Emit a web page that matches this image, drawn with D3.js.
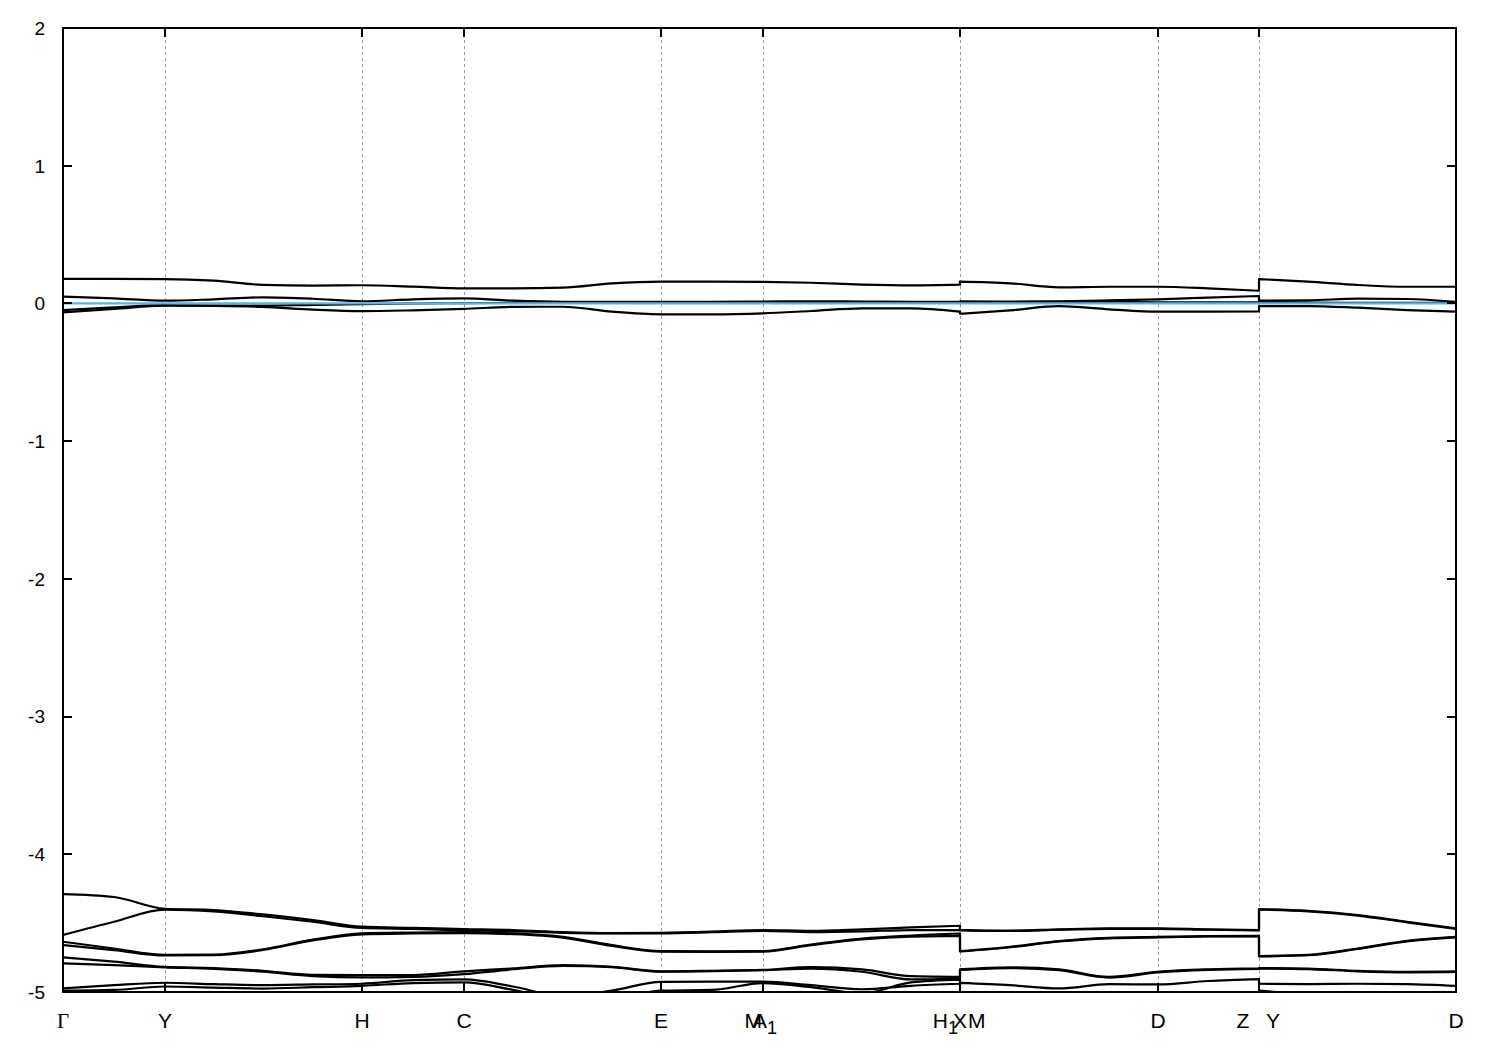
<!DOCTYPE html>
<html><head><meta charset="utf-8">
<script src="https://cdn.jsdelivr.net/npm/d3@7"></script>
<style>body{margin:0;background:#fff}svg{display:block}</style>
</head><body><svg id="chart" width="1500" height="1050"></svg>
<script>
// ---- data ----
const tickK = [0, 0.102, 0.299, 0.401, 0.598, 0.700, 0.897, 1.095, 1.196, 1.393];
const yTicks = [-5, -4, -3, -2, -1, 0, 1, 2];
const kPiece1 = [0, 0.051, 0.102, 0.151, 0.200, 0.250, 0.299, 0.350, 0.401, 0.450, 0.500, 0.549, 0.598, 0.649, 0.700, 0.748, 0.799, 0.848, 0.897];
const kPiece2 = [0.897, 0.947, 0.996, 1.046, 1.095, 1.145, 1.196];
const kPiece3 = [1.196, 1.245, 1.295, 1.344, 1.393];

const bandA = [0.178,0.178,0.177,0.165,0.135,0.130,0.132,0.122,0.110,0.110,0.115,0.145,0.158,0.158,0.156,0.150,0.137,0.131,0.136,
               0.158,0.146,0.117,0.121,0.121,0.110,0.092,
               0.177,0.158,0.134,0.121,0.121];
const bandB = [0.049,0.037,0.020,0.030,0.044,0.034,0.015,0.030,0.037,0.020,0.012,0.012,0.012,0.012,0.014,0.016,0.014,0.012,0.012,
               0.015,0.013,0.015,0.022,0.030,0.042,0.054,
               0.020,0.022,0.035,0.032,0.012];
const bandC = [-0.048,-0.028,-0.012,-0.015,-0.016,-0.010,-0.005,0.000,0.002,0.004,0.006,0.008,0.008,0.008,0.008,0.008,0.006,0.005,0.004,
               0.008,0.010,0.012,0.010,0.008,0.008,0.008,
               0.008,0.006,0.004,0.004,0.004];
const bandD = [-0.065,-0.040,-0.016,-0.018,-0.025,-0.045,-0.056,-0.050,-0.040,-0.025,-0.024,-0.060,-0.079,-0.079,-0.072,-0.055,-0.036,-0.036,-0.060,
               -0.075,-0.050,-0.020,-0.043,-0.060,-0.060,-0.058,
               -0.019,-0.019,-0.031,-0.048,-0.060];
const bandP1 = [-4.289,-4.310,-4.396,-4.405,-4.437,-4.478,-4.526,-4.534,-4.543,-4.550,-4.565,-4.572,-4.570,-4.562,-4.550,-4.556,-4.545,-4.531,-4.519,
                -4.548,-4.555,-4.545,-4.538,-4.538,-4.545,-4.550,
                -4.398,-4.410,-4.441,-4.490,-4.538];
const bandP2 = [-4.586,-4.490,-4.402,-4.415,-4.450,-4.490,-4.535,-4.542,-4.552,-4.558,-4.570,-4.575,-4.574,-4.566,-4.556,-4.565,-4.560,-4.550,-4.550,
                -4.552,-4.557,-4.548,-4.541,-4.541,-4.548,-4.553,
                -4.401,-4.414,-4.445,-4.494,-4.541];
const bandP3 = [-4.635,-4.684,-4.730,-4.728,-4.690,-4.620,-4.574,-4.568,-4.565,-4.575,-4.600,-4.660,-4.703,-4.705,-4.703,-4.655,-4.612,-4.590,-4.575,
                -4.703,-4.672,-4.630,-4.607,-4.600,-4.594,-4.592,
                -4.739,-4.730,-4.684,-4.629,-4.600];
const bandP4 = [-4.659,-4.696,-4.735,-4.733,-4.695,-4.625,-4.581,-4.575,-4.572,-4.580,-4.605,-4.665,-4.707,-4.708,-4.707,-4.660,-4.618,-4.598,-4.593,
                -4.706,-4.675,-4.633,-4.610,-4.603,-4.597,-4.595,
                -4.742,-4.733,-4.687,-4.632,-4.603];
const bandP5 = [-4.749,-4.780,-4.818,-4.826,-4.846,-4.875,-4.877,-4.877,-4.850,-4.829,-4.805,-4.817,-4.850,-4.846,-4.840,-4.820,-4.836,-4.885,-4.890,
                -4.836,-4.821,-4.836,-4.890,-4.853,-4.836,-4.829,
                -4.826,-4.830,-4.846,-4.853,-4.850];
const bandP6 = [-4.792,-4.805,-4.821,-4.832,-4.853,-4.885,-4.894,-4.890,-4.870,-4.835,-4.810,-4.820,-4.853,-4.848,-4.842,-4.830,-4.853,-4.909,-4.900,
                -4.840,-4.826,-4.842,-4.895,-4.858,-4.840,-4.833,
                -4.829,-4.834,-4.850,-4.857,-4.854];
const bandP7 = [-4.974,-4.950,-4.933,-4.943,-4.950,-4.945,-4.940,-4.914,-4.909,-4.960,-5.030,-4.990,-4.926,-4.925,-4.925,-4.950,-4.980,-4.955,-4.940,
                -4.933,-4.950,-4.974,-4.943,-4.945,-4.920,-4.906,
                -4.940,-4.943,-4.940,-4.943,-4.956];
const bandP8 = [-4.990,-4.985,-4.960,-4.968,-4.975,-4.965,-4.955,-4.935,-4.930,-4.985,-5.060,-5.050,-4.990,-4.985,-4.935,-4.965,-5.010,-4.930,-4.910,
                -5.020,-5.050,-5.080,-5.080,-5.050,-5.030,-5.020,
                -4.990,-5.020,-5.060,-5.060,-5.060];
const bands = [bandA, bandB, bandC, bandD, bandP1, bandP2, bandP3, bandP4, bandP5, bandP6, bandP7, bandP8];
const fermiLevel = 0;

// ---- drawing ----
const svg = d3.select('#chart');
const W = 1500, H = 1050;
const m = {left: 63, right: 44, top: 28, bottom: 58};
const x = d3.scaleLinear().domain([0, 1.393]).range([m.left, W - m.right]);
const y = d3.scaleLinear().domain([-5, 2]).range([H - m.bottom, m.top]);

svg.append('rect').attr('width', W).attr('height', H).attr('fill', '#fff');

svg.append('defs').append('clipPath').attr('id', 'clip')
  .append('rect').attr('x', x(0)).attr('y', y(2)).attr('width', x(1.393) - x(0)).attr('height', y(-5) - y(2));

// vertical dotted grid lines at interior ticks
svg.append('g').selectAll('line').data(tickK.slice(1, -1)).join('line')
  .attr('x1', d => x(d)).attr('x2', d => x(d)).attr('y1', y(2)).attr('y2', y(-5))
  .attr('stroke', '#9a9a9a').attr('stroke-width', 1).attr('stroke-dasharray', '3,3')
  .attr('shape-rendering', 'crispEdges');

// bands
const line = d3.line().x(d => x(d[0])).y(d => y(d[1])).curve(d3.curveMonotoneX);
const n1 = kPiece1.length, n2 = kPiece2.length;
const gB = svg.append('g').attr('clip-path', 'url(#clip)');
bands.forEach(b => {
  const p1 = kPiece1.map((k, i) => [k, b[i]]);
  const p2 = kPiece2.map((k, i) => [k, b[n1 + i]]);
  const p3 = kPiece3.map((k, i) => [k, b[n1 + n2 + i]]);
  const d = line(p1) + line(p2).replace(/^M/, 'L') + line(p3).replace(/^M/, 'L');
  gB.append('path').attr('d', d).attr('fill', 'none').attr('stroke', '#000')
    .attr('stroke-width', 2.2).attr('stroke-linejoin', 'round');
});

// Fermi level
gB.append('line').attr('x1', x(0)).attr('x2', x(1.393)).attr('y1', y(fermiLevel)).attr('y2', y(fermiLevel))
  .attr('stroke', '#56b4e9').attr('stroke-width', 2.2);

// ticks
const tl = 9;
const gT = svg.append('g').attr('stroke', '#000').attr('stroke-width', 2).attr('shape-rendering', 'crispEdges');
yTicks.forEach(v => {
  gT.append('line').attr('x1', x(0)).attr('x2', x(0) + tl).attr('y1', y(v)).attr('y2', y(v));
  gT.append('line').attr('x1', x(1.393)).attr('x2', x(1.393) - tl).attr('y1', y(v)).attr('y2', y(v));
});
tickK.forEach(k => {
  gT.append('line').attr('x1', x(k)).attr('x2', x(k)).attr('y1', y(-5)).attr('y2', y(-5) - tl);
  gT.append('line').attr('x1', x(k)).attr('x2', x(k)).attr('y1', y(2)).attr('y2', y(2) + tl);
});

// frame
svg.append('rect').attr('x', x(0)).attr('y', y(2)).attr('width', x(1.393) - x(0)).attr('height', y(-5) - y(2))
  .attr('fill', 'none').attr('stroke', '#000').attr('stroke-width', 2).attr('shape-rendering', 'crispEdges');

// y labels
const font = 'Liberation Sans, Arial, sans-serif';
svg.append('g').selectAll('text').data(yTicks).join('text')
  .attr('x', x(0) - 18).attr('y', d => y(d)).attr('dy', '0.36em')
  .attr('text-anchor', 'end').attr('font-family', font)
  .attr('font-size', 19).text(d => d);

// x labels
const labY = y(-5) + 36;
function lab(xp, str, anchor, sub, fam) {
  const t = svg.append('text').attr('x', xp).attr('y', labY).attr('text-anchor', anchor || 'middle')
    .attr('font-family', fam || font).attr('font-size', 21);
  t.append('tspan').text(str);
  if (sub) t.append('tspan').attr('dy', 6).attr('font-size', 18).text(sub);
  return t;
}
lab(x(tickK[0]), 'Γ', 'middle', null, 'Liberation Serif, Times New Roman, serif');
lab(x(tickK[1]), 'Y');
lab(x(tickK[2]), 'H');
lab(x(tickK[3]), 'C');
lab(x(tickK[4]), 'E');
lab(x(tickK[5]) - 1, 'M', 'end');
lab(x(tickK[5]) + 2, 'A', 'middle', '1');
lab(x(tickK[6]) - 2, 'H', 'end', '1');
lab(x(tickK[6]), 'X');
lab(x(tickK[6]) + 8, 'M', 'start');
lab(x(tickK[7]), 'D');
lab(x(tickK[8]) - 16, 'Z');
lab(x(tickK[8]) + 14, 'Y');
lab(x(tickK[9]), 'D');
</script>
</body></html>
